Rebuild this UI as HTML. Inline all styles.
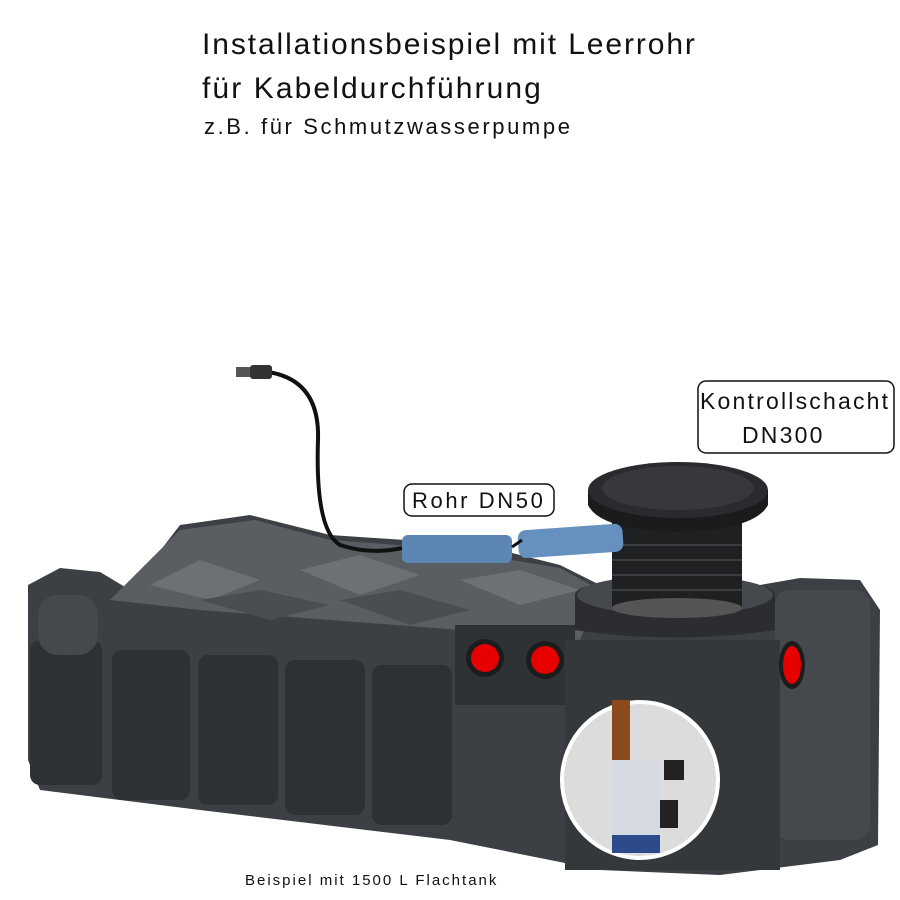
<!DOCTYPE html>
<html><head><meta charset="utf-8"><style>
body{margin:0;width:900px;height:900px;background:#fff;overflow:hidden;font-family:"Liberation Sans",sans-serif}
.t{position:absolute;color:#111;white-space:nowrap}
</style></head><body>
<div class="t" style="left:202px;top:28px;font-size:30px;letter-spacing:1.9px">Installationsbeispiel mit Leerrohr</div>
<div class="t" style="left:202px;top:72px;font-size:30px;letter-spacing:2.1px">für Kabeldurchführung</div>
<div class="t" style="left:204px;top:114px;font-size:22px;letter-spacing:2.6px">z.B. für Schmutzwasserpumpe</div>
<svg width="900" height="900" style="position:absolute;left:0;top:0">
<polygon points="28,585 60,568 100,572 130,590 180,525 250,515 330,535 480,545 560,565 600,585 760,585 800,578 860,580 880,610 878,845 840,860 720,875 600,870 450,840 200,810 40,790 28,760" fill="#3c3f43"/>
<polygon points="110,600 180,530 255,520 330,540 440,548 560,568 600,590 580,640 460,630 200,610" fill="#5a5e63"/>
<polygon points="150,585 200,560 260,580 210,600" fill="#6d7176"/>
<polygon points="300,570 360,555 420,575 360,595" fill="#6d7176"/>
<polygon points="200,600 260,590 330,605 270,620" fill="#4a4e52"/>
<polygon points="340,600 400,590 470,610 410,625" fill="#4a4e52"/>
<polygon points="460,580 520,570 580,590 520,605" fill="#6d7176"/>
<g fill="#2e3134">
<rect x="30" y="640" width="72" height="145" rx="10"/>
<rect x="112" y="650" width="78" height="150" rx="10"/>
<rect x="198" y="655" width="80" height="150" rx="10"/>
<rect x="285" y="660" width="80" height="155" rx="10"/>
<rect x="372" y="665" width="80" height="160" rx="10"/>
</g>
<g fill="#45494d">
<rect x="38" y="595" width="60" height="60" rx="20"/>
<rect x="775" y="590" width="95" height="250" rx="15"/>
</g>
<rect x="455" y="625" width="120" height="80" fill="#2f3235"/>
<rect x="565" y="640" width="215" height="230" fill="#35383b"/>
<circle cx="485" cy="658" r="19" fill="#1c1c1c"/><circle cx="485" cy="658" r="14" fill="#e60000"/>
<circle cx="545" cy="660" r="19" fill="#1c1c1c"/><circle cx="545" cy="660" r="14" fill="#e60000"/>
<ellipse cx="792" cy="665" rx="13" ry="24" fill="#1c1c1c"/><ellipse cx="792" cy="665" rx="9" ry="19" fill="#e60000"/>
<path d="M575,595 Q575,580 675,578 Q775,580 775,595 L775,630 Q675,645 575,630Z" fill="#2b2d30"/>
<ellipse cx="675" cy="595" rx="98" ry="20" fill="#45484c"/>
<rect x="612" y="510" width="130" height="98" fill="#1f2022"/>
<g stroke="#3a3c3f" stroke-width="2"><line x1="612" y1="545" x2="742" y2="545"/><line x1="612" y1="560" x2="742" y2="560"/><line x1="612" y1="575" x2="742" y2="575"/><line x1="612" y1="590" x2="742" y2="590"/></g>
<ellipse cx="677" cy="608" rx="65" ry="10" fill="#555"/>
<path d="M588,490 L588,505 Q600,530 677,532 Q755,530 768,505 L768,490Z" fill="#1a1b1d"/>
<ellipse cx="678" cy="490" rx="90" ry="28" fill="#2a2b2e"/>
<ellipse cx="678" cy="488" rx="76" ry="22" fill="#36383b"/>
<rect x="402" y="535" width="110" height="28" rx="6" fill="#5c87b5"/>
<rect x="518" y="527" width="105" height="28" rx="8" fill="#6690bd" transform="rotate(-4 570 540)"/>
<path d="M268,372 Q320,380 318,440 Q315,530 340,545 Q370,555 402,548" fill="none" stroke="#111" stroke-width="4"/>
<path d="M512,547 Q515,545 522,540" stroke="#111" stroke-width="3"/>
<rect x="250" y="365" width="22" height="14" rx="3" fill="#333"/>
<rect x="236" y="367" width="14" height="10" fill="#555"/>
<circle cx="640" cy="780" r="78" fill="#dcdcdc" stroke="#fff" stroke-width="4"/>
<rect x="612" y="700" width="18" height="60" fill="#8a4a1c"/>
<rect x="612" y="760" width="48" height="90" rx="4" fill="#d6dbe3"/>
<rect x="612" y="835" width="48" height="18" fill="#2d4a8a"/>
<rect x="664" y="760" width="20" height="20" fill="#222"/>
<rect x="660" y="800" width="18" height="28" fill="#222"/>
<rect x="404" y="484" width="150" height="32" rx="8" fill="#fff" stroke="#111" stroke-width="1.5"/>
<text x="412" y="508" font-size="22" letter-spacing="2.6" font-family="Liberation Sans" fill="#111">Rohr DN50</text>
<rect x="698" y="381" width="196" height="72" rx="8" fill="#fff" stroke="#111" stroke-width="1.5"/>
<text x="700" y="409" font-size="23" letter-spacing="2.2" font-family="Liberation Sans" fill="#111">Kontrollschacht</text>
<text x="742" y="443" font-size="23" letter-spacing="2.2" font-family="Liberation Sans" fill="#111">DN300</text>
<text x="245" y="885" font-size="15" letter-spacing="2" font-family="Liberation Sans" fill="#111">Beispiel mit 1500 L Flachtank</text>
</svg>
</body></html>
